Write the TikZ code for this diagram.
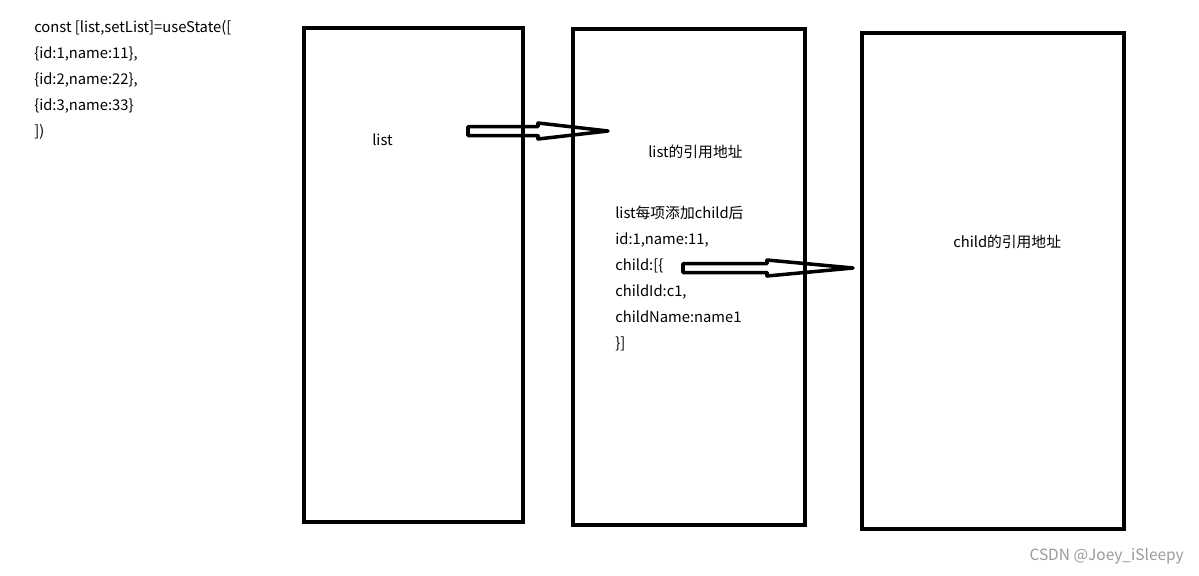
\documentclass[tikz,border=0pt]{standalone}
\usepackage{fontspec}
\setmainfont{Noto Sans CJK SC}
\usetikzlibrary{calc}

\tikzset{
  membox/.style={draw=black, line width=2.8pt},
  codetext/.style={anchor=north west, align=left, inner sep=0pt,
    font=\fontsize{10.5}{18.5}\selectfont},
  reftext/.style={anchor=west, inner sep=0pt, font=\fontsize{10.5}{18.5}\selectfont},
  hollowarrow/.style={draw=black, line width=2.5pt, line join=round}
}

\begin{document}
\begin{tikzpicture}[x=0.025cm, y=-0.025cm]
    \useasboundingbox (0,0) rectangle (1199,575);
    % Boxes
    \draw[membox] (304,28) rectangle (523,522) coordinate (boxA);
    \draw[membox] (573,29) rectangle (805,525) coordinate (boxB);
    \draw[membox] (862,33) rectangle (1124,529) coordinate (boxC);

    % Code
    \node[codetext] (code) at (34,20) {const [list,setList]=useState([\\
        \{id:1,name:11\},\\
        \{id:2,name:22\},\\
        \{id:3,name:33\}\\
        ])};

    % Labels
    \node[reftext] (list) at (372,140) {list};
    \node[reftext] (listref) at (648,152) {list的引用地址};
    \node[codetext] (item) at (615,206) {list每项添加child后\\
        id:1,name:11,\\
        child:[\{\\
        childId:c1,\\
        childName:name1\\
        \}]};
    \node[reftext] (childref) at (953,242) {child的引用地址};

    % Arrows
    \coordinate (a1s) at (468,131);
    \coordinate (a1e) at (608,131);
    \coordinate (a2s) at (683,268);
    \coordinate (a2e) at (853,268);
    \draw[hollowarrow] (a1s) -- ($(a1s)+(0,-4.5)$) -- ($(a1e)+(-70,-4.5)$) -- ($(a1e)+(-70,-8)$)
        -- (a1e) -- ($(a1e)+(-70,8)$) -- ($(a1e)+(-70,4.5)$) -- ($(a1s)+(0,4.5)$) -- cycle;
    \draw[hollowarrow] (a2s) -- ($(a2s)+(0,-4.5)$) -- ($(a2e)+(-86,-4.5)$) -- ($(a2e)+(-86,-8)$)
        -- (a2e) -- ($(a2e)+(-86,8)$) -- ($(a2e)+(-86,4.5)$) -- ($(a2s)+(0,4.5)$) -- cycle;

    % Watermark
    \node[anchor=east, inner sep=0pt, text=black!40, font=\fontsize{11}{13}\selectfont] (mark) at (1184,556) {CSDN @Joey\_iSleepy};
\end{tikzpicture}
\end{document}
